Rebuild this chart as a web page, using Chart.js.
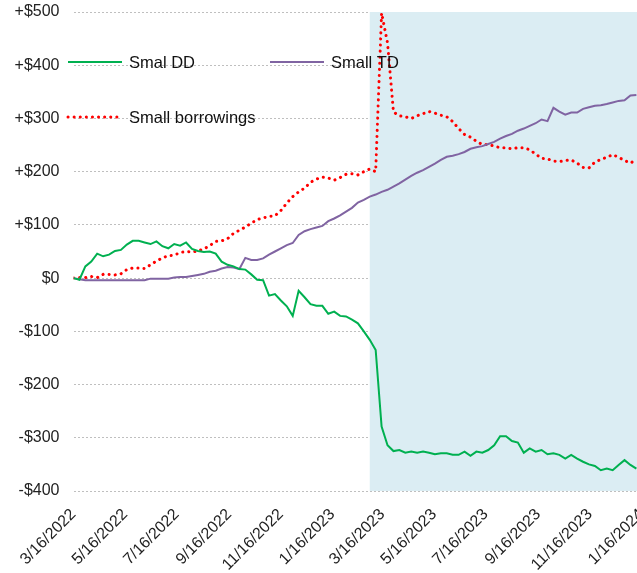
<!DOCTYPE html>
<html>
<head>
<meta charset="utf-8">
<script src="https://cdn.jsdelivr.net/npm/chart.js@4.4.1/dist/chart.umd.min.js"></script>
<style>
  html, body { margin: 0; padding: 0; overflow: hidden; background: #fff; }
  #wrap { width: 680px; height: 573px; }
</style>
</head>
<body>
<div id="wrap"><canvas id="chart" width="680" height="573"></canvas></div>
<script>
// weekly data, first week = 3/16/2022
const startDate = '3/16/2022';
const tickLabels = ['3/16/2022', '5/16/2022', '7/16/2022', '9/16/2022', '11/16/2022', '1/16/2023',
                    '3/16/2023', '5/16/2023', '7/16/2023', '9/16/2023', '11/16/2023', '1/16/2024'];
const shadeFrom = '3/1/2023';
const seriesNames = ['Smal DD', 'Small TD', 'Small borrowings'];

const smallDD = [0, -3, 22, 31, 46, 41, 44, 51, 53, 63,
  70, 70, 67, 64, 69, 60, 56, 64, 61, 67,
  55, 51, 49, 50, 46, 31, 25, 22, 17, 16,
  7, -3, -4, -33, -30, -42, -53, -71, -24, -36,
  -49, -52, -52, -67, -63, -71, -72, -78, -85, -100,
  -116, -135, -279, -314, -325, -323, -328, -326, -328, -326,
  -328, -331, -329, -329, -332, -332, -326, -334, -326, -328,
  -323, -314, -297, -297, -306, -309, -328, -320, -326, -323,
  -331, -329, -332, -339, -332, -339, -345, -350, -353, -361,
  -358, -361, -351, -342, -351, -358];

const smallTD = [0, -2, -4, -4, -4, -4, -4, -4, -4, -4,
  -4, -4, -4, -1, -1, -1, -1, 1, 2, 2,
  4, 6, 8, 12, 14, 18, 21, 20, 17, 38,
  34, 34, 37, 44, 50, 56, 62, 66, 81, 88,
  92, 95, 98, 107, 112, 118, 125, 132, 142, 147,
  153, 157, 162, 166, 172, 178, 185, 192, 198, 203,
  209, 215, 222, 228, 230, 233, 237, 243, 246, 248,
  252, 256, 262, 267, 271, 277, 281, 286, 291, 298,
  295, 320, 313, 307, 311, 311, 318, 321, 324, 325,
  327, 330, 333, 334, 343, 344];

const smallBorrowings = [0, 1, 1, 3, 1, 7, 7, 6, 8, 16,
  19, 19, 18, 25, 32, 38, 42, 43, 48, 50,
  49, 51, 55, 61, 69, 70, 74, 84, 90, 96,
  103, 110, 113, 116, 117, 127, 141, 153, 162, 169,
  180, 186, 190, 188, 184, 189, 195, 196, 194, 200,
  205, 200, 498, 442, 312, 305, 303, 300, 305, 309,
  313, 310, 306, 303, 294, 281, 270, 265, 257, 251,
  251, 248, 245, 245, 243, 245, 245, 241, 233, 225,
  224, 220, 219, 221, 222, 216, 208, 207, 218, 223,
  227, 232, 227, 221, 216, 223];

const yTicks = [-400, -300, -200, -100, 0, 100, 200, 300, 400, 500];

function dayOf(str) {
  const [m, d, y] = str.split('/').map(Number);
  const [m0, d0, y0] = startDate.split('/').map(Number);
  return (Date.UTC(y, m - 1, d) - Date.UTC(y0, m0 - 1, d0)) / 86400000;
}

const tickDays = tickLabels.map(dayOf);
const weekDay = (i) => i * 7;
const toPoints = (arr) => arr.map((v, i) => ({ x: weekDay(i), y: v }));

const FONT = "'Liberation Sans', Arial, sans-serif";

const shadePlugin = {
  id: 'shade',
  beforeDatasetsDraw(chart) {
    const { ctx, chartArea, scales } = chart;
    const x0 = scales.x.getPixelForValue(dayOf(shadeFrom));
    ctx.save();
    ctx.fillStyle = '#DBEDF3';
    ctx.fillRect(x0, chartArea.top, chartArea.right - x0, chartArea.bottom - chartArea.top);
    ctx.restore();
  }
};

const legendPlugin = {
  id: 'insideLegend',
  afterDraw(chart) {
    const { ctx } = chart;
    const spots = [[68, 62], [270, 62], [68, 117]];
    ctx.save();
    chart.data.datasets.forEach((ds, i) => {
      const [x, y] = spots[i];
      ctx.beginPath();
      ctx.strokeStyle = ds.borderColor;
      ctx.lineWidth = ds.borderWidth;
      ctx.lineCap = ds.borderCapStyle || 'butt';
      ctx.setLineDash(ds.borderDash || []);
      ctx.moveTo(x, y);
      ctx.lineTo(x + 54, y);
      ctx.stroke();
      ctx.setLineDash([]);
      ctx.fillStyle = '#111';
      ctx.font = '16.5px ' + FONT;
      ctx.textBaseline = 'middle';
      ctx.textAlign = 'left';
      ctx.fillText(ds.label, x + 61, y + 1);
    });
    ctx.restore();
  }
};

new Chart(document.getElementById('chart').getContext('2d'), {
  type: 'line',
  data: {
    datasets: [{
      label: seriesNames[0],
      data: toPoints(smallDD),
      borderColor: '#00B050',
      borderWidth: 2,
      pointRadius: 0,
      tension: 0
    }, {
      label: seriesNames[1],
      data: toPoints(smallTD),
      borderColor: '#8064A2',
      borderWidth: 2,
      pointRadius: 0,
      tension: 0
    }, {
      label: seriesNames[2],
      data: toPoints(smallBorrowings),
      borderColor: '#FF0000',
      borderWidth: 3,
      borderDash: [0.1, 6],
      borderCapStyle: 'round',
      pointRadius: 0,
      tension: 0
    }]
  },
  options: {
    responsive: false,
    devicePixelRatio: 1,
    animation: false,
    layout: { padding: { top: 12, right: 14, left: 0, bottom: 0 } },
    plugins: { legend: { display: false }, tooltip: { enabled: false } },
    scales: {
      x: {
        type: 'linear',
        min: 0,
        max: 700,
        grid: { display: false },
        border: { display: false },
        afterBuildTicks: (scale) => { scale.ticks = tickDays.map(v => ({ value: v })); },
        afterFit: (scale) => { scale.height = 82; scale.paddingRight = 0; },
        ticks: {
          minRotation: 45,
          maxRotation: 45,
          padding: 6,
          color: '#222',
          font: { family: FONT, size: 16 },
          callback: (v) => tickLabels[tickDays.indexOf(v)]
        }
      },
      y: {
        min: -400,
        max: 500,
        grid: { color: '#BFBFBF', lineWidth: 1, drawTicks: false },
        border: { display: false, dash: [2, 2] },
        afterBuildTicks: (scale) => { scale.ticks = yTicks.map(v => ({ value: v })); },
        afterFit: (scale) => { scale.width = 73.5; scale.paddingTop = 0; scale.paddingBottom = 0; },
        ticks: {
          padding: 14,
          color: '#222',
          font: { family: FONT, size: 16 },
          callback: (v) => v === 0 ? '$0' : (v > 0 ? '+$' + v : '-$' + Math.abs(v))
        }
      }
    }
  },
  plugins: [shadePlugin, legendPlugin]
});
</script>
</body>
</html>
